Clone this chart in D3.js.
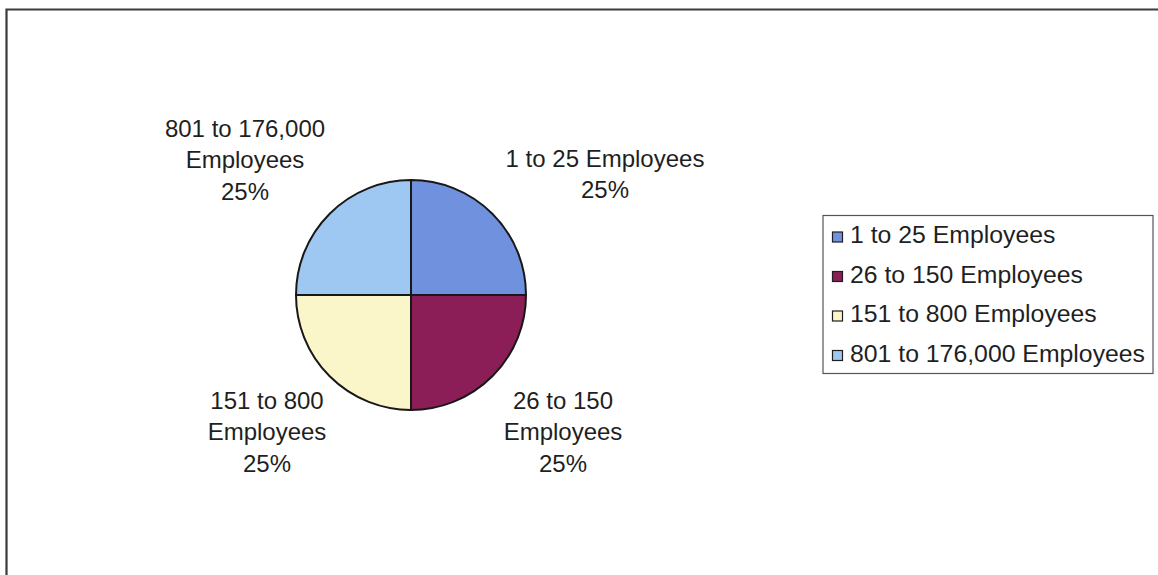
<!DOCTYPE html>
<html>
<head>
<meta charset="utf-8">
<script src="https://cdn.jsdelivr.net/npm/d3@7"></script>
<style>
  html, body { margin: 0; padding: 0; background: #ffffff; }
  svg { display: block; }
  text { font-family: "Liberation Sans", Arial, Helvetica, sans-serif; fill: #1f1f1f; }
</style>
</head>
<body>
<svg id="chart" width="1158" height="575"></svg>
<script>
// Company size of respondents
const categories = ["1 to 25 Employees", "26 to 150 Employees", "151 to 800 Employees", "801 to 176,000 Employees"];
const shares = [25, 25, 25, 25];
const colors = ["#7092de", "#8b1d57", "#fbf6c9", "#9ec7f1"];
// Data label lines for each slice (category name wrapped, then percentage)
const labelLines = [
  ["1 to 25 Employees"],
  ["26 to 150", "Employees"],
  ["151 to 800", "Employees"],
  ["801 to 176,000", "Employees"]
];

const svg = d3.select("#chart");
const W = 1158, H = 575;

// frame (top and left edges)
svg.append("path")
  .attr("d", `M6.5,${H} L6.5,9.5 L${W},9.5`)
  .attr("fill", "none")
  .attr("stroke", "#3a3a3a")
  .attr("stroke-width", 2.2);

const cx = 411, cy = 295, r = 115;
const pie = d3.pie().sort(null).value(d => d)(shares);
const arc = d3.arc().innerRadius(0).outerRadius(r);

const g = svg.append("g").attr("transform", `translate(${cx},${cy})`);
g.selectAll("path.slice")
  .data(pie)
  .join("path")
  .attr("class", "slice")
  .attr("d", arc)
  .attr("fill", (d, i) => colors[i])
  .attr("stroke", "#181818")
  .attr("stroke-width", 2)
  .attr("stroke-linejoin", "round");

// Data labels around the pie, one block per slice
const fmt = v => Math.round(v / d3.sum(shares) * 100) + "%";
const lineH = 31.5;
// horizontal centre offset from the pie centre and first baseline of each block
const labelAnchors = [
  { dx: 194, base: 166.5 },
  { dx: 152, base: 408.5 },
  { dx: -144, base: 408.5 },
  { dx: -166, base: 136.5 }
];
pie.forEach((d, i) => {
  const lines = labelLines[i].concat([fmt(d.value)]);
  const x = cx + labelAnchors[i].dx;
  const t = svg.append("text")
    .attr("text-anchor", "middle")
    .attr("font-size", 24);
  lines.forEach((s, k) => {
    t.append("tspan")
      .attr("x", x)
      .attr("y", labelAnchors[i].base + k * lineH)
      .text(s);
  });
});

// Legend
const lg = svg.append("g").attr("transform", "translate(823,215.5)");
lg.append("rect")
  .attr("width", 330).attr("height", 158)
  .attr("fill", "#ffffff")
  .attr("stroke", "#555555")
  .attr("stroke-width", 1.2);
const legendY = d3.scalePoint().domain(categories).range([27.5, 146]);
const item = lg.selectAll("g.item")
  .data(categories)
  .join("g")
  .attr("class", "item")
  .attr("transform", d => `translate(0,${legendY(d)})`);
item.append("rect")
  .attr("x", 9.5).attr("y", -11)
  .attr("width", 10).attr("height", 10)
  .attr("fill", (d, i) => colors[i])
  .attr("stroke", "#1e1e1e")
  .attr("stroke-width", 1.2);
item.append("text")
  .attr("x", 27).attr("y", 0)
  .attr("font-size", 24.8)
  .text(d => d);
</script>
</body>
</html>
